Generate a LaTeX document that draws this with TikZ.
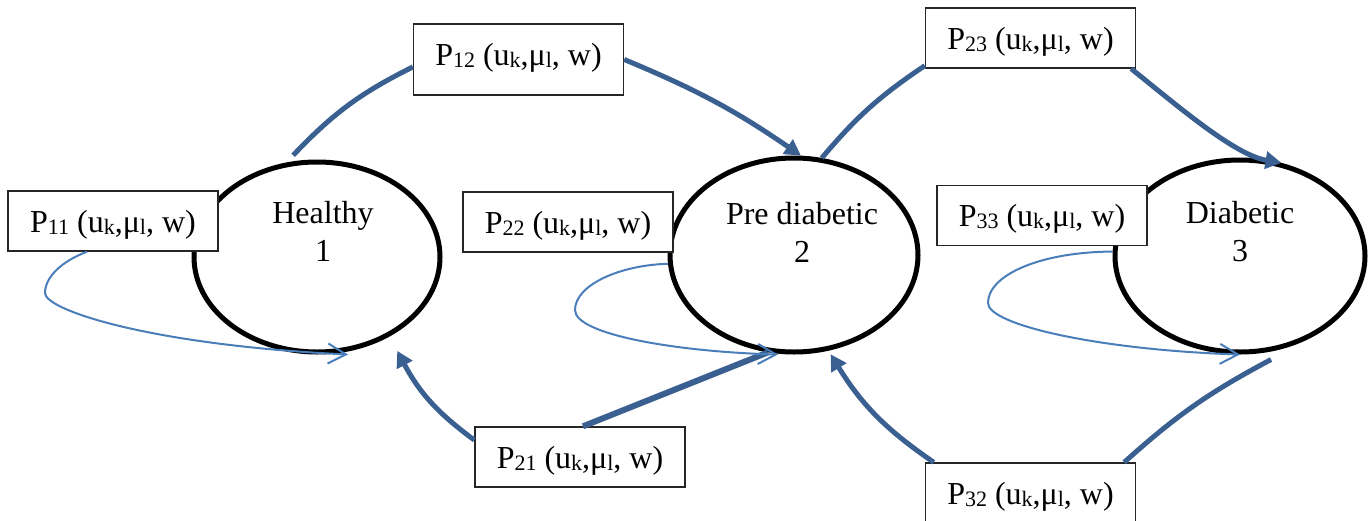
\documentclass[tikz,border=0pt]{standalone}
\usepackage{fontspec}
\setmainfont{Liberation Serif}
\usetikzlibrary{shapes.geometric,arrows.meta}
\definecolor{linkblue}{RGB}{58,96,145}
\definecolor{loopblue}{RGB}{74,126,187}
% lowered index used in the transition labels
\newcommand\lowidx[1]{\raisebox{-1pt}{\fontsize{11}{11}\selectfont #1}}
\newcommand\prob[1]{P\lowidx{#1} (u\lowidx{k},μ\lowidx{l}, w)}
\begin{document}
\begin{tikzpicture}[x=0.5pt,y=0.5pt,
  state/.style={draw=black,line width=2.5pt,ellipse,inner sep=0pt},
  statetext/.style={align=center,inner sep=0pt,font=\fontsize{16}{19}\selectfont},
  probbox/.style={draw=black!85,line width=0.7pt,fill=white,rectangle,inner sep=0pt,
    minimum width=105pt,minimum height=30pt,text height=12pt,text depth=1pt,
    font=\fontsize{16}{19}\selectfont},
  trans/.style={draw=linkblue,line width=2.5pt},
  transarrow/.style={trans,-{Triangle[length=8pt,width=8.5pt]}},
  selfloop/.style={draw=loopblue,line width=1pt,-{Straight Barb[length=9pt,width=10pt]}}]

\useasboundingbox (0,0) rectangle (1372,-520);

% states
\node[state,minimum width=123pt,minimum height=95pt] (h) at (317,-257) {};
\node[state,minimum width=124pt,minimum height=97pt] (p) at (794,-255) {};
\node[state,minimum width=125pt,minimum height=96pt] (d) at (1240,-256) {};

\node[statetext] (htext) at ([xshift=3pt,yshift=13pt]h.center) {Healthy\\1};
\node[statetext] (ptext) at ([xshift=4pt,yshift=11.5pt]p.center) {Pre diabetic\\2};
\node[statetext] (dtext) at ([yshift=12pt]d.center) {Diabetic\\3};

% transition probability labels
\node[probbox] (p11) at (113,-221) {\prob{11}};
\node[probbox,minimum height=35.5pt,text depth=6.5pt] (p12) at (518.5,-59.5) {\prob{12}};
\node[probbox] (p23) at (1030.5,-38) {\prob{23}};
\node[probbox] (p22) at (568,-222) {\prob{22}};
\node[probbox] (p33) at (1042,-215.5) {\prob{33}};
\node[probbox] (p21) at (580,-457) {\prob{21}};
\node[probbox] (p32) at (1030.5,-493) {\prob{32}};

% forward transitions
\draw[trans] ([yshift=3pt]h.104) to[bend left=10] ([yshift=-3.75pt]p12.west);
\draw[transarrow] (p12.east) to[bend left=6] (p.86);
\draw[trans] (p.74) to[bend left=8] ([yshift=1.5pt]p23.south west);
\draw[transarrow] ([xshift=-2.5pt]p23.south east) .. controls (1180,-108) and (1235,-155) .. (d.66);

% backward transitions
\draw[trans,line width=3pt] (p.-105) -- ([xshift=1.5pt]p21.north);
\draw[transarrow] ([yshift=8.5pt]p21.west) to[bend left=13] ([xshift=5pt,yshift=-6.5pt]h.-49);
\draw[trans] ([yshift=-4pt]d.-72) to[bend right=7] ([xshift=-6pt]p32.north east);
\draw[transarrow] ([xshift=4.5pt]p32.north west) to[bend left=12] ([yshift=-2pt]p.-69);

% self loops
\draw[selfloop] ([xshift=-13pt]p11.south) .. controls (60,-262) and (45,-278) .. (45,-293)
  .. controls (45,-310) and (150,-345) .. ([xshift=15.5pt]h.south);
\draw[selfloop] (p.184) .. controls (620,-265) and (575,-285) .. (575,-310)
  .. controls (575,-335) and (680,-352) .. ([xshift=-8pt]p.south);
\draw[selfloop] (d.178) .. controls (1040,-252) and (988,-275) .. (988,-303)
  .. controls (988,-325) and (1100,-350) .. (d.south);
\end{tikzpicture}
\end{document}
